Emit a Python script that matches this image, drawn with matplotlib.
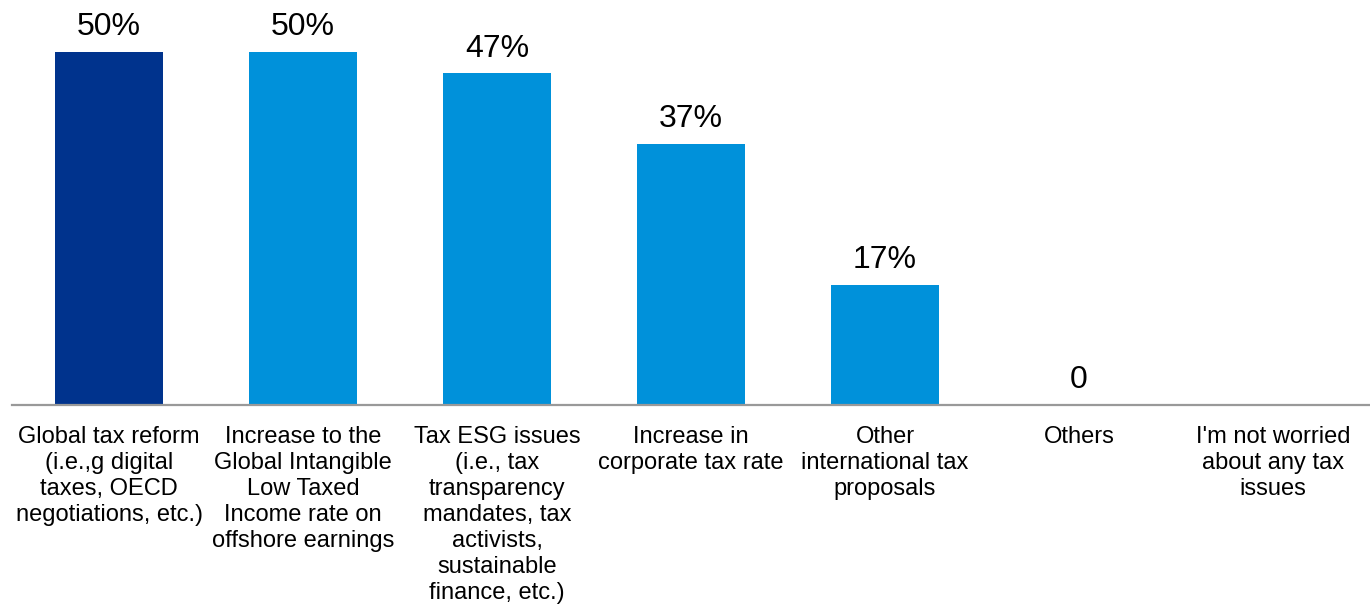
import matplotlib.pyplot as plt
import numpy as np

plt.rcParams['font.family'] = ['Liberation Sans', 'DejaVu Sans']

# categories and values (percent), last one has no answer shown
categories = ["Global tax reform\n(i.e.,g digital\ntaxes, OECD\nnegotiations, etc.)",
              "Increase to the\nGlobal Intangible\nLow Taxed\nIncome rate on\noffshore earnings",
              "Tax ESG issues\n(i.e., tax\ntransparency\nmandates, tax\nactivists,\nsustainable\nfinance, etc.)",
              "Increase in\ncorporate tax rate",
              "Other\ninternational tax\nproposals",
              "Others",
              "I'm not worried\nabout any tax\nissues"]
values = [50, 50, 47, 37, 17, 0, np.nan]
value_labels = ["50%", "50%", "47%", "37%", "17%", "0", ""]
bar_colors = ["#00338D", "#0091DA", "#0091DA", "#0091DA", "#0091DA", "#0091DA", "#0091DA"]

fig = plt.figure(figsize=(13.7, 6.15), dpi=100)
ax = fig.add_axes([12/1370, 210/615, 1 - 12/1370, 405/615])

x = np.arange(len(categories))
vals = np.nan_to_num(values)
ax.bar(x, vals, width=0.56, color=bar_colors)

for xi, v, lab in zip(x, vals, value_labels):
    if lab:
        ax.annotate(lab, (xi, v), xytext=(0, 7), textcoords='offset points',
                    ha='center', va='bottom', fontsize=23, color='#000000')

ax.set_xlim(-0.5, len(categories) - 0.5)
ax.set_ylim(0, 57.4)
ax.set_xticks(x)
ax.set_xticklabels(categories, fontsize=17, linespacing=1.235, color='#000000')
ax.tick_params(axis='x', length=0, pad=15)
ax.set_yticks([])
for s in ['top', 'left', 'right']:
    ax.spines[s].set_visible(False)
ax.spines['bottom'].set_color('#999999')
ax.spines['bottom'].set_linewidth(1.6)

fig.savefig('out.png', dpi=100)
